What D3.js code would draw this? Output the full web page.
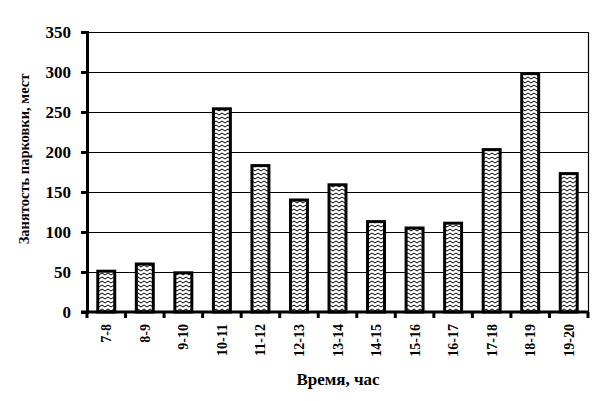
<!DOCTYPE html>
<html><head><meta charset="utf-8">
<script src="https://cdn.jsdelivr.net/npm/d3@7"></script>
<style>body{margin:0;background:#fff}svg{display:block}</style>
</head><body>
<script>
const categories = ["7-8","8-9","9-10","10-11","11-12","12-13","13-14","14-15","15-16","16-17","17-18","18-19","19-20"];
const values = [51,60,49,254,183,140,159,113,105,111,203,298,173];
const yTicks = [0,50,100,150,200,250,300,350];

const W=604,H=401;
const m={l:87,r:16,t:32,b:89};
const svg=d3.select("body").append("svg").attr("width",W).attr("height",H);
const defs=svg.append("defs");
const pat=defs.append("pattern").attr("id","zz").attr("patternUnits","userSpaceOnUse")
  .attr("width",6).attr("height",4);
pat.append("rect").attr("width",6).attr("height",4).attr("fill","#fff");
pat.append("path").attr("d","M-1,2 L0,1 L3,3 L6,1 L7,2").attr("stroke","#000").attr("stroke-width",1).attr("fill","none");

const x=d3.scaleBand().domain(categories).range([m.l,W-m.r]).paddingInner(0.56).paddingOuter(0.28);
const y=d3.scaleLinear().domain([0,350]).range([H-m.b,m.t]);

svg.append("g").selectAll("line").data(yTicks.filter(d=>d>0)).join("line")
  .attr("x1",m.l).attr("x2",W-m.r).attr("y1",d=>Math.round(y(d))+0.5).attr("y2",d=>Math.round(y(d))+0.5)
  .attr("stroke","#000").attr("stroke-width",1.2);
svg.append("line").attr("x1",W-m.r+0.5).attr("x2",W-m.r+0.5).attr("y1",y(350)).attr("y2",y(0))
  .attr("stroke","#000").attr("stroke-width",1.2);

svg.append("g").selectAll("rect").data(values).join("rect")
  .attr("x",(d,i)=>x(categories[i])).attr("width",x.bandwidth())
  .attr("y",d=>y(d)).attr("height",d=>y(0)-y(d))
  .attr("fill","url(#zz)").attr("stroke","#000").attr("stroke-width",3);

const ya=svg.append("g").attr("transform",`translate(${m.l},0)`)
  .call(d3.axisLeft(y).tickValues(yTicks).tickSize(6).tickPadding(10));
ya.select(".domain").attr("stroke-width",3);
ya.selectAll(".tick line").attr("stroke-width",3);
ya.selectAll("text").attr("font-family","Liberation Serif").attr("font-weight","bold").attr("font-size",17).attr("fill","#000");

const xa=svg.append("g").attr("transform",`translate(0,${y(0)})`);
xa.append("line").attr("x1",m.l-6).attr("x2",W-m.r+1).attr("stroke","#000").attr("stroke-width",3);
const bounds=d3.range(categories.length+1).map(i=>m.l+i*(W-m.r-m.l)/categories.length);
xa.selectAll(".tk").data(bounds).join("line").attr("class","tk")
  .attr("x1",d=>d).attr("x2",d=>d).attr("y1",0).attr("y2",6).attr("stroke","#000").attr("stroke-width",3);
xa.selectAll("text").data(categories).join("text")
  .attr("transform",d=>`translate(${x(d)+x.bandwidth()/2+5},12) rotate(-90)`)
  .attr("text-anchor","end").attr("font-family","Liberation Serif").attr("font-weight","bold")
  .attr("font-size",14).text(d=>d);

svg.append("text").attr("x",338).attr("y",385).attr("text-anchor","middle")
  .attr("font-family","Liberation Serif").attr("font-weight","bold").attr("font-size",17).text("Время, час");
svg.append("text").attr("transform",`translate(29,159) rotate(-90)`).attr("text-anchor","middle")
  .attr("font-family","Liberation Serif").attr("font-weight","bold").attr("font-size",14.5).text("Занятость парковки, мест");
</script>
</body></html>
